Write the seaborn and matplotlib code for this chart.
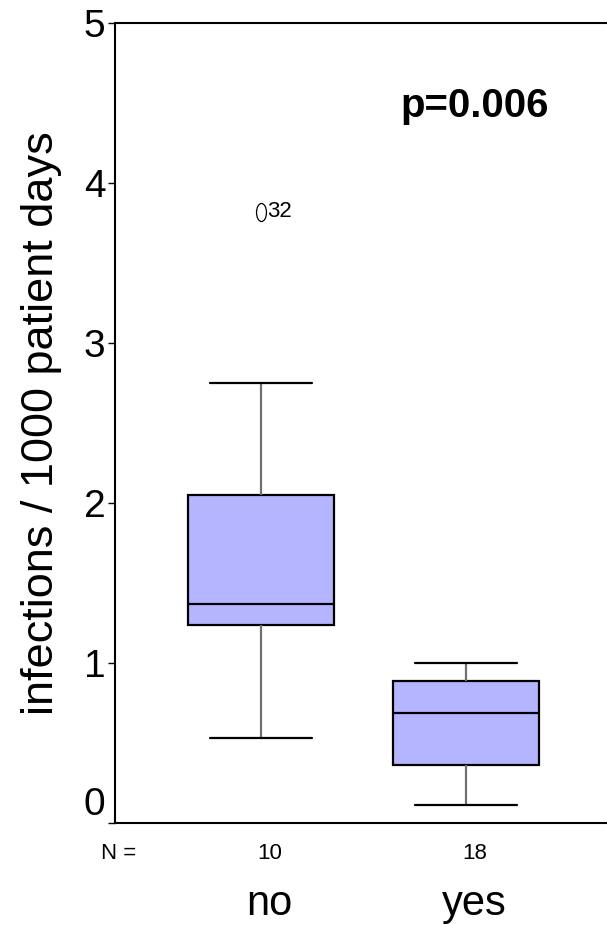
"""SPSS-style boxplot of infection rates, redrawn with seaborn."""

import numpy as np
import pandas as pd
import seaborn as sns
import matplotlib
matplotlib.use("Agg")
import matplotlib.pyplot as plt
from matplotlib.path import Path
from matplotlib.transforms import blended_transform_factory, offset_copy

# data
groups = ["no", "yes"]
rates_no = [0.53, 0.95, 1.22, 1.30, 1.33, 1.41, 1.85, 2.12, 2.75, 3.82]
rates_yes = [0.11, 0.18, 0.25, 0.31, 0.35, 0.39, 0.48, 0.58, 0.66,
             0.72, 0.78, 0.83, 0.86, 0.90, 0.93, 0.95, 0.98, 1.00]
outlier_case = "32"
p_text = "p=0.006"
y_label = "infections / 1000 patient days"

df = pd.DataFrame({
    "group": ["no"] * len(rates_no) + ["yes"] * len(rates_yes),
    "rate": rates_no + rates_yes,
})

sns.set_style("ticks")
plt.rcParams["font.family"] = ["Liberation Sans", "DejaVu Sans"]
plt.rcParams.update({"text.color": "black", "axes.labelcolor": "black",
                     "xtick.color": "black", "ytick.color": "black"})

fig = plt.figure(figsize=(6.07, 9.25), dpi=100)
ax = fig.add_axes([115 / 607, 102 / 925, 492 / 607, 800 / 925])

# narrow open ellipse, like the SPSS outlier symbol
circ = Path.unit_circle()
ellipse = Path(circ.vertices * np.array([0.55, 1.0]), circ.codes)

sns.boxplot(
    data=df, x="group", y="rate", order=groups, ax=ax,
    width=0.71, color="#B4B4FF", saturation=1, whis=1.5,
    boxprops=dict(edgecolor="black", linewidth=1.6),
    medianprops=dict(color="black", linewidth=1.6),
    whiskerprops=dict(color="#707070", linewidth=1.6),
    capprops=dict(color="black", linewidth=1.6, gid="cap"),
    flierprops=dict(marker=ellipse, markersize=13, markerfacecolor="none",
                    markeredgecolor="black", markeredgewidth=0.9),
)

# shorter caps than box width
cap_half = 0.25
for line in ax.lines:
    if line.get_gid() == "cap":
        xs = line.get_xdata()
        mid = (xs[0] + xs[1]) / 2
        line.set_xdata([mid - cap_half, mid + cap_half])

ax.set_xlim(-0.712, 1.688)
ax.set_ylim(0, 5)
ax.set_yticks(range(6))
ax.set_yticklabels([str(v) for v in range(6)], fontsize=28)
ax.tick_params(axis="y", direction="out", length=5, width=1, pad=2, color="black")
ax.get_yticklabels()[0].set_va("bottom")
ax.set_xticks([])
ax.set_xlabel("")
ax.set_ylabel(y_label, fontsize=32.5)
ax.yaxis.set_label_coords(-0.108, 0.5)

for side in ["left", "top", "bottom"]:
    ax.spines[side].set_color("black")
    ax.spines[side].set_linewidth(1.5)
ax.spines["right"].set_visible(False)

# outlier case number
ax.annotate(outlier_case, xy=(0, max(rates_no)), xytext=(4.5, 0),
            textcoords="offset points", ha="left", va="center", fontsize=16)

ax.text(0.732, 0.8825, p_text, transform=ax.transAxes, ha="center",
        va="baseline", fontsize=29, fontweight="bold")

# N row and group names below the axis
mixed = blended_transform_factory(ax.transData, fig.transFigure)
shifted = offset_copy(mixed, fig=fig, x=6, y=0, units="points")
fig.text(101 / 607, 1 - 859 / 925, "N =", ha="left", va="baseline", fontsize=16)
for i, vals in enumerate([rates_no, rates_yes]):
    ax.text(i, 1 - 859 / 925, str(len(vals)), transform=shifted,
            ha="center", va="baseline", fontsize=16, clip_on=False)
    ax.text(i, 1 - 915 / 925, groups[i], transform=shifted,
            ha="center", va="baseline", fontsize=30, clip_on=False)

fig.savefig("out.png", dpi=100)
plt.close(fig)
